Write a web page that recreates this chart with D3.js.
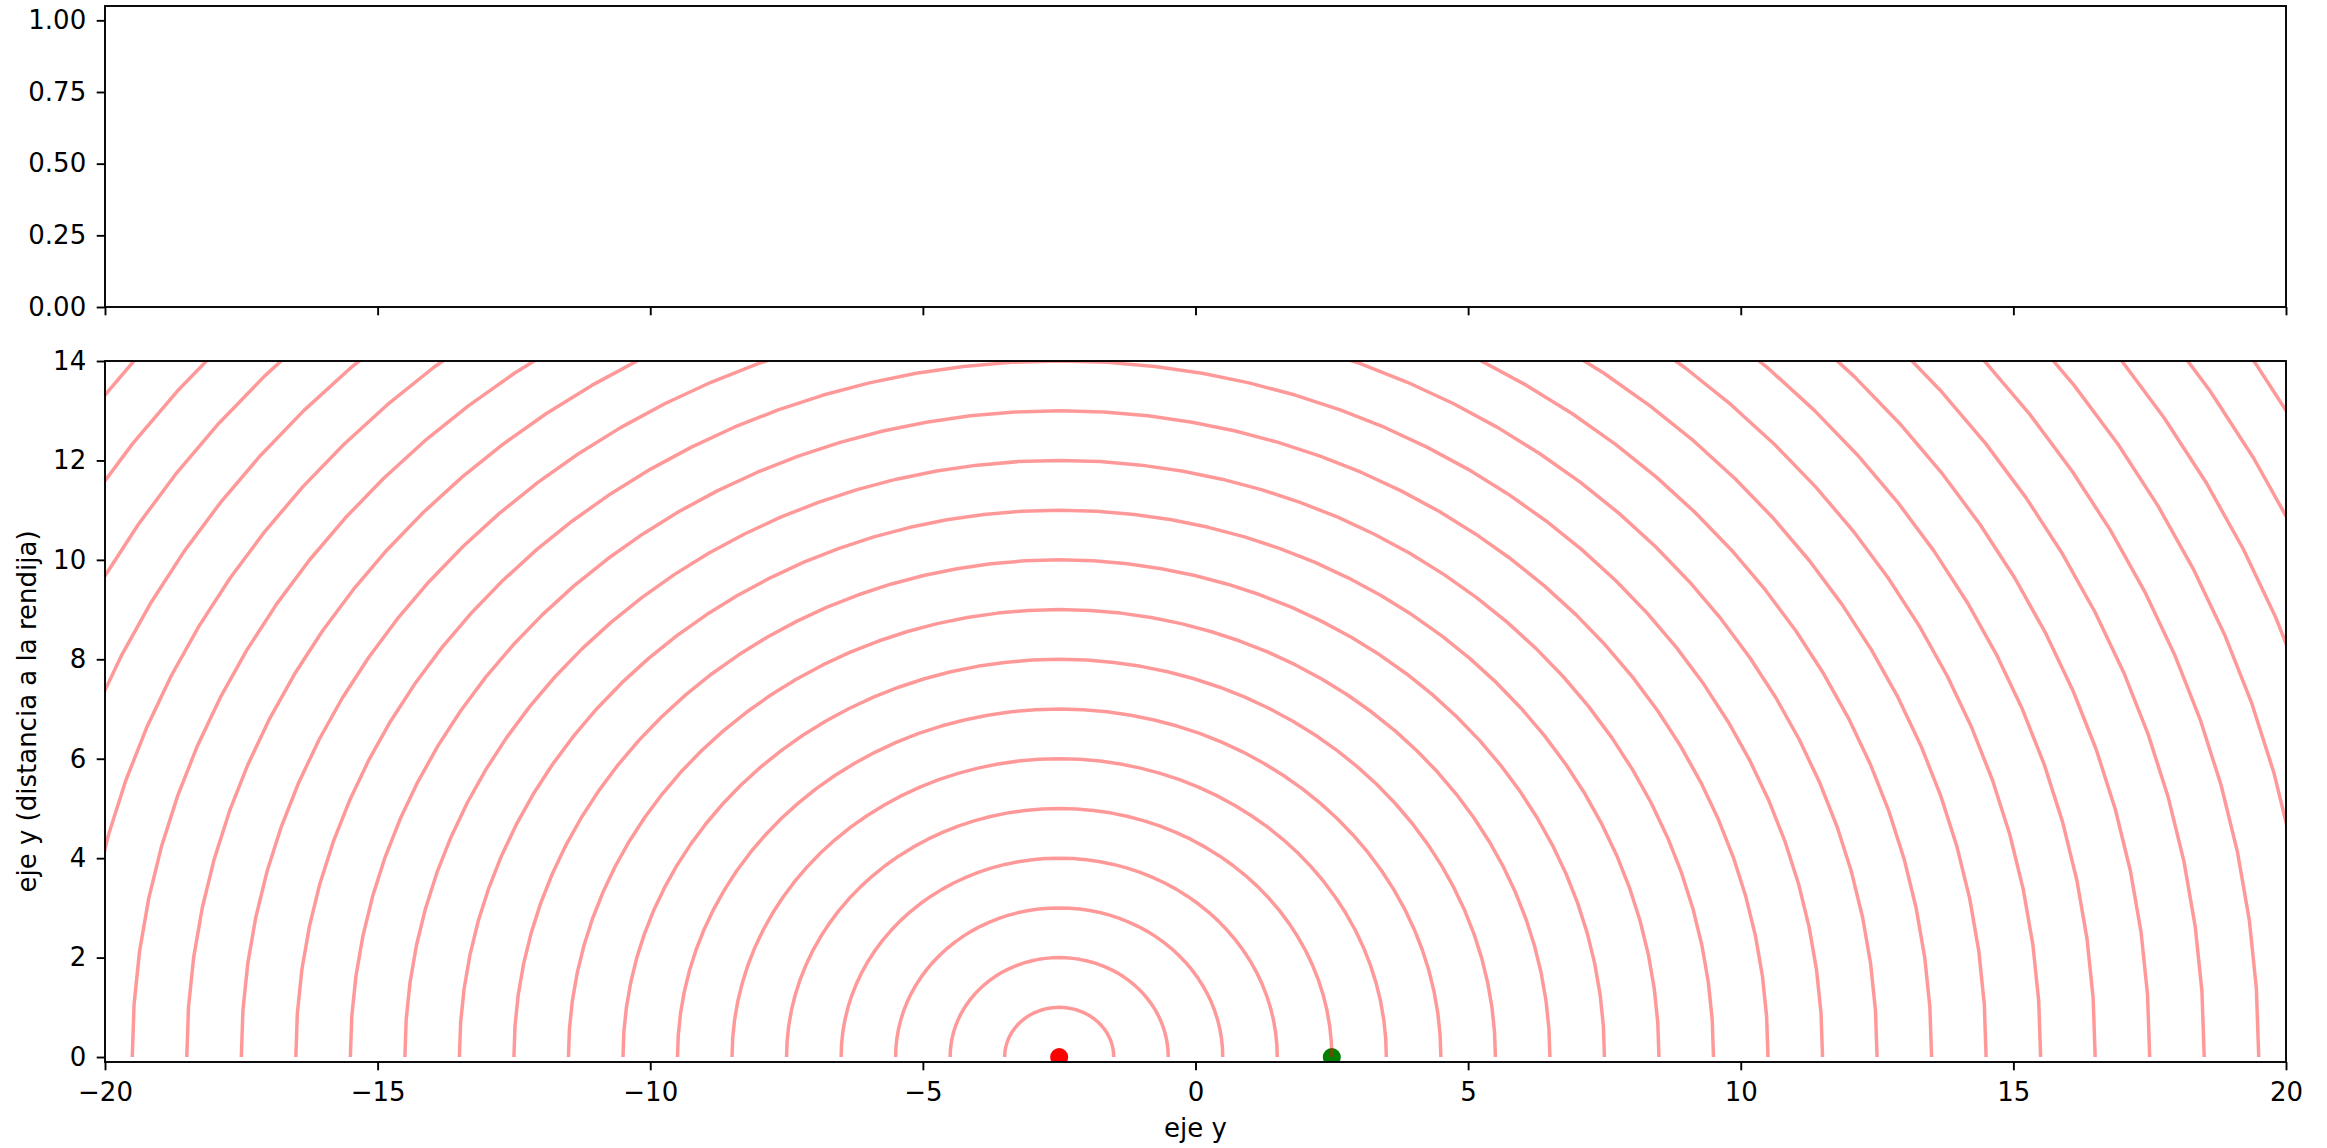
<!DOCTYPE html>
<html>
<head>
<meta charset="utf-8">
<script src="https://cdn.jsdelivr.net/npm/d3@7"></script>
<style>
  body { margin: 0; background: #fff; }
  svg { display: block; }
  text { font-family: "DejaVu Sans", sans-serif; }
</style>
</head>
<body>
<svg id="chart" width="2327" height="1148"></svg>
<script>
// data
var xTicks = [-20, -15, -10, -5, 0, 5, 10, 15, 20];
var topYTicks = [0, 0.25, 0.5, 0.75, 1];
var bottomYTicks = [0, 2, 4, 6, 8, 10, 12, 14];
var radii = [1, 2, 3, 4, 5, 6, 7, 8, 9, 10, 11, 12, 13, 14, 15, 16, 17, 18, 19, 20, 21, 22, 23, 24, 25, 26];
var waveCenter = [-2.5, 0];
var sourceX = [-2.5, 2.5];
var sourceY = [0, 0];
var sourceColor = ["#ff0000", "#008000"];
var arcSteps = 50; // segments per half circle

var svg = d3.select("#chart");
var fontSize = 26;

var left = 105, right = 2286;
var x = d3.scaleLinear().domain([-20, 20]).range([left, right]);

// top panel (empty)
var topBox = { top: 6, bottom: 307 };
var yTop = d3.scaleLinear().domain([0, 1.05]).range([topBox.bottom, topBox.top]);

// bottom panel
var botBox = { top: 361, bottom: 1062 };
var yBot = d3.scaleLinear().domain([-0.1, 14]).range([botBox.bottom, botBox.top]);

function styleAxis(g) {
  g.selectAll(".domain").remove();
  g.selectAll(".tick line").attr("stroke", "#000").attr("stroke-width", 1.9);
  g.selectAll(".tick text")
    .attr("fill", "#000")
    .style("font-size", fontSize + "px")
    .style("font-family", "DejaVu Sans");
}

// ---- top panel ----
svg.append("g")
  .attr("transform", "translate(0," + topBox.bottom + ")")
  .call(d3.axisBottom(x).tickValues(xTicks).tickFormat("").tickSize(8.3).tickSizeOuter(0))
  .call(styleAxis);

svg.append("g")
  .attr("transform", "translate(" + left + ",0)")
  .call(d3.axisLeft(yTop).tickValues(topYTicks).tickFormat(d3.format(".2f")).tickSize(8.3).tickPadding(10.5).tickSizeOuter(0))
  .call(styleAxis);

svg.append("rect")
  .attr("x", left).attr("y", topBox.top)
  .attr("width", right - left).attr("height", topBox.bottom - topBox.top)
  .attr("fill", "none").attr("stroke", "#000").attr("stroke-width", 1.9);

// ---- bottom panel ----
svg.append("defs").append("clipPath").attr("id", "clipBot")
  .append("rect")
  .attr("x", left).attr("y", botBox.top)
  .attr("width", right - left).attr("height", botBox.bottom - botBox.top);

var plot = svg.append("g").attr("clip-path", "url(#clipBot)");

// sources
plot.selectAll("circle.src")
  .data(sourceX)
  .enter()
  .append("circle")
  .attr("class", "src")
  .attr("cx", function (d) { return x(d); })
  .attr("cy", function (d, i) { return yBot(sourceY[i]); })
  .attr("r", 9)
  .attr("fill", function (d, i) { return sourceColor[i]; });

// wave fronts as half circles sampled in angle
var line = d3.line()
  .x(function (p) { return x(p[0]); })
  .y(function (p) { return yBot(p[1]); });

plot.selectAll("path.arc")
  .data(radii)
  .enter()
  .append("path")
  .attr("class", "arc")
  .attr("d", function (r) {
    var pts = d3.range(arcSteps + 1).map(function (k) {
      var t = Math.PI * k / arcSteps;
      return [waveCenter[0] + r * Math.cos(t), waveCenter[1] + r * Math.sin(t)];
    });
    return line(pts);
  })
  .attr("fill", "none")
  .attr("stroke", "#ff0000")
  .attr("stroke-opacity", 0.4)
  .attr("stroke-width", 3.5)
  .attr("stroke-linejoin", "round");

svg.append("g")
  .attr("transform", "translate(0," + botBox.bottom + ")")
  .call(d3.axisBottom(x).tickValues(xTicks).tickSize(8.3).tickPadding(12.5).tickSizeOuter(0))
  .call(styleAxis);

svg.append("g")
  .attr("transform", "translate(" + left + ",0)")
  .call(d3.axisLeft(yBot).tickValues(bottomYTicks).tickSize(8.3).tickPadding(10.5).tickSizeOuter(0))
  .call(styleAxis);

svg.append("rect")
  .attr("x", left).attr("y", botBox.top)
  .attr("width", right - left).attr("height", botBox.bottom - botBox.top)
  .attr("fill", "none").attr("stroke", "#000").attr("stroke-width", 1.9);

// axis labels
svg.append("text")
  .attr("x", (left + right) / 2)
  .attr("y", 1137)
  .attr("text-anchor", "middle")
  .style("font-size", fontSize + "px")
  .text("eje y");

svg.append("text")
  .attr("transform", "translate(36," + (botBox.top + botBox.bottom) / 2 + ") rotate(-90)")
  .attr("text-anchor", "middle")
  .style("font-size", fontSize + "px")
  .text("eje y (distancia a la rendija)");
</script>
</body>
</html>
